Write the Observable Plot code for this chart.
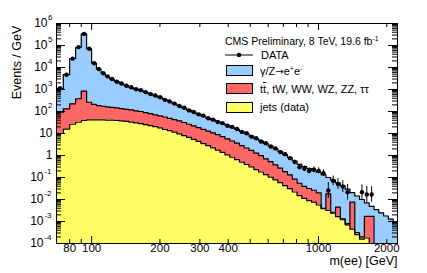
<!DOCTYPE html>
<html><head><meta charset="utf-8">
<script src="https://cdn.jsdelivr.net/npm/d3@7"></script>
<script src="https://cdn.jsdelivr.net/npm/@observablehq/plot@0.6"></script>
<style>
html,body{margin:0;padding:0;background:#fff;}
#wrap{position:relative;width:427px;height:273px;font-family:"Liberation Sans",Arial,Helvetica,sans-serif;}
.lg{position:absolute;font-size:11px;line-height:12px;white-space:nowrap;color:#000;}
.box{position:absolute;width:25px;height:9px;border:1px solid #000;}
sup{font-size:7px;line-height:0;vertical-align:4px;}
.arr{font-family:"DejaVu Sans",sans-serif;font-size:10px;}
</style></head><body>
<div id="wrap">
  <div id="chart"></div>
  <div class="lg" style="left:225px;top:35px;font-size:10.5px">CMS Preliminary, 8 TeV, 19.6 fb<sup>-1</sup></div>
  <svg style="position:absolute;left:224px;top:50px" width="32" height="10"><line x1="1" y1="5" x2="29" y2="5" stroke="#000" stroke-width="1"/><circle cx="15" cy="5" r="2.2" fill="#000"/></svg>
  <div class="lg" style="left:261px;top:48.7px">DATA</div>
  <div class="box" style="left:225.5px;top:64.5px;background:#99ccff"></div>
  <div class="lg" style="left:260px;top:64.7px">γ/Z<span class="arr">→</span>e<sup>+</sup>e<sup>-</sup></div>
  <div class="box" style="left:225.5px;top:83px;background:#ff6666"></div>
  <div class="lg" style="left:260px;top:82.9px">t<span style="text-decoration:overline">t</span>, tW, WW, WZ, ZZ, ττ</div>
  <div class="box" style="left:225.5px;top:101.5px;background:#ffff66"></div>
  <div class="lg" style="left:260px;top:101.2px">jets (data)</div>
</div>
<script>
// Bin edges (GeV)
const edges = [70,75,80,85,90,95,100,105,110,115,120,126,132.3,138.9,145.9,153.2,160.8,168.9,177.3,186.2,195.5,205.3,215.5,226.3,237.6,249.5,262,275.1,288.8,303.3,318.4,334.4,351.1,368.6,387,406.4,426.7,448.1,470.5,494,518.7,544.7,571.9,600.5,630.5,662,695.1,729.9,766.4,804.7,844.9,887.2,931.5,978.1,1027,1078,1132,1189,1248,1311,1376,1445,1517,1593,1673,1757,1844,1937,2033,2135,2242];

// Events / GeV per process
const jets = [10.0,15.8,26.3,32.4,38.9,41.2,41.9,42.0,41.6,40.9,
  40.7,39.8,37.2,35.5,33.1,30.2,28.2,25.1,22.9,20.4,
  18.2,15.5,13.5,11.5,9.55,7.94,6.61,5.37,4.37,3.47,
  2.82,2.24,1.74,1.38,1.07,0.832,0.646,0.501,0.389,0.302,
  0.229,0.178,0.135,0.105,0.0776,0.0589,0.0427,0.0309,0.0219,0.0151,
  0.0112,0.00891,0.00759,0.00562,0.0038,0.00316,0.0024,0.00166,0.0012,0.000708,
  0.000447,0.000251,0.000158,0.000178,0,0,0,0,0,0];

const other = [83.3,116,198,348,812,222,167,144,132,121,
  114,105,97.7,90.4,84.4,77.0,71.8,64.0,56.5,50.4,
  44.9,40.7,35.5,31.2,27.6,23.7,19.7,17.0,14.3,12.0,
  10.1,8.48,7.18,5.86,4.68,3.74,2.99,2.32,1.80,1.40,
  1.06,0.799,0.573,0.420,0.294,0.210,0.144,0.101,0.0632,0.0398,
  0.0286,0.0227,0.0187,0.0143,0.00018,0.015,0.00023,0.00281,0.00012,0.000086,
  0.00714,0.000065,0.000041,0.00152,0.0017,0,0,0,0,0];

const dyee = [1029,4654,25476,82800,337950,70540,15640,8325,5321,3728,
  2796,2147,1685,1388,1112,940,812,670,552,454,
  373,291,233,181,145,113,88.5,70.9,57.2,46.2,
  37.2,31.0,25.8,20.9,17.7,14.5,11.9,9.48,7.58,5.89,
  4.60,3.59,2.76,2.17,1.67,1.28,0.910,0.681,0.477,0.343,
  0.276,0.225,0.183,0.150,0.128,0.0818,0.0732,0.0531,0.0413,0.0287,
  0.0128,0.0141,0.0098,0.00538,0.0032,0.00347,0.00245,0.00178,0.00129,0.000933];

const data = [1150,4700,25300,84000,336000,71500,15600,8600,5450,3950,
  3020,2240,1860,1480,1260,1020,933,759,617,537,
  447,339,288,229,178,148,112,95.5,74.1,64.6,
  49.0,42.7,33.1,29.5,22.4,20.0,15.9,11.8,10.2,7.2,
  6.1,4.3,3.6,2.55,2.1,1.42,1.15,0.76,0.50,0.295,
  0.251,0.200,0.224,0.200,0.158,0.0257,0.0708,0.0513,0.0389,0.0214,
  null,null,0.0214,0.0170,0.0170,null,null,null,null,null];

// Axis ticks
const yExps = [-4,-3,-2,-1,0,1,2,3,4,5,6];
const xLabels = [80,100,200,300,400,1000,2000];
const xMajor = [100,1000];
const xMinor = [70,80,90,200,300,400,500,600,700,800,900,2000];

const W = 427, H = 273, mL = 56, mR = 30, mT = 23, mB = 30;
const pw = W - mL - mR, ph = H - mT - mB;
const FLOOR = 1e-6;
const BLUE = "#99ccff", RED = "#ff6666", YEL = "#ffff66";

const n = jets.length;
const layers = jets.map((j, i) => {
  const t1 = j, t2 = t1 + other[i], t3 = t2 + dyee[i];
  return {t1: Math.max(t1, FLOOR), t2: Math.max(t2, FLOOR), t3: Math.max(t3, FLOOR)};
});
const stepPts = edges.map((e, i) => ({x: e, ...layers[Math.min(i, n - 1)]}));

const dataPts = data.map((v, i) => {
  if (v == null) return null;
  const w = edges[i + 1] - edges[i];
  const N = v * w;
  const s = Math.sqrt(N + 0.25);
  return {xc: (edges[i] + edges[i + 1]) / 2, v, lo: Math.max(N + 0.5 - s, 1e-9) / w, hi: (N + 0.5 + s) / w};
}).filter(Boolean);

const yMajor = yExps.map(e => 10 ** e);
const yMinor = [];
for (const e of yExps.slice(0, -1)) for (let m = 2; m <= 9; m++) yMinor.push(m * 10 ** e);

const yLab = yExps.map(e => ({v: 10 ** e, base: e === 0 ? "1" : "10", exp: (e === 0 || e === 1) ? "" : String(e)}));
const FS = 12;

const chart = Plot.plot({
  width: W, height: H, marginLeft: mL, marginRight: mR, marginTop: mT, marginBottom: mB,
  x: {type: "log", domain: [70, 2230], axis: null},
  y: {type: "log", domain: [1e-4, 1e6], axis: null},
  style: {fontFamily: "Liberation Sans, Arial, Helvetica, sans-serif", background: "white", overflow: "visible"},
  marks: [
    Plot.areaY(stepPts, {x: "x", y1: "t2", y2: "t3", curve: "step-after", fill: BLUE, clip: true}),
    Plot.areaY(stepPts, {x: "x", y1: "t1", y2: "t2", curve: "step-after", fill: RED, clip: true}),
    Plot.areaY(stepPts, {x: "x", y1: () => FLOOR, y2: "t1", curve: "step-after", fill: YEL, clip: true}),
    Plot.line(stepPts, {x: "x", y: "t1", curve: "step-after", stroke: "black", strokeWidth: 1.2, clip: true}),
    Plot.line(stepPts, {x: "x", y: "t2", curve: "step-after", stroke: "black", strokeWidth: 1.2, clip: true}),
    Plot.line(stepPts, {x: "x", y: "t3", curve: "step-after", stroke: "black", strokeWidth: 1.2, clip: true}),
    Plot.ruleX(dataPts, {x: "xc", y1: "lo", y2: "hi", stroke: "black", strokeWidth: 1, clip: true}),
    Plot.dot(dataPts, {x: "xc", y: "v", r: 2.2, fill: "black", stroke: null, clip: true}),
    Plot.frame({stroke: "black", strokeWidth: 1}),
    // inward ticks
    Plot.ruleY(yMajor, {y: d => d, insetRight: pw - 9, stroke: "black"}),
    Plot.ruleY(yMajor, {y: d => d, insetLeft: pw - 9, stroke: "black"}),
    Plot.ruleY(yMinor, {y: d => d, insetRight: pw - 5, stroke: "black"}),
    Plot.ruleY(yMinor, {y: d => d, insetLeft: pw - 5, stroke: "black"}),
    Plot.ruleX(xMajor, {x: d => d, insetTop: ph - 7, stroke: "black"}),
    Plot.ruleX(xMajor, {x: d => d, insetBottom: ph - 7, stroke: "black"}),
    Plot.ruleX(xMinor, {x: d => d, insetTop: ph - 4, stroke: "black"}),
    Plot.ruleX(xMinor, {x: d => d, insetBottom: ph - 4, stroke: "black"}),
    // y tick labels
    Plot.text(yLab.filter(d => !d.exp), {y: "v", text: "base", frameAnchor: "left", textAnchor: "end", dx: -4, fontSize: FS}),
    Plot.text(yLab.filter(d => d.exp && !d.exp.startsWith("-")), {y: "v", text: "base", frameAnchor: "left", textAnchor: "end", dx: -9, fontSize: FS}),
    Plot.text(yLab.filter(d => d.exp && !d.exp.startsWith("-")), {y: "v", text: "exp", frameAnchor: "left", textAnchor: "end", dx: -4, dy: -6, fontSize: 8}),
    Plot.text(yLab.filter(d => d.exp.startsWith("-")), {y: "v", text: "base", frameAnchor: "left", textAnchor: "end", dx: -13, fontSize: FS}),
    Plot.text(yLab.filter(d => d.exp.startsWith("-")), {y: "v", text: "exp", frameAnchor: "left", textAnchor: "end", dx: -5, dy: -6, fontSize: 8}),
    // x tick labels
    Plot.text(xLabels, {x: d => d, text: d => String(d), frameAnchor: "bottom", dy: 8.5, fontSize: 11.5}),
    // axis titles
    Plot.text(["m(ee) [GeV]"], {text: d => d, frameAnchor: "bottom-right", textAnchor: "end", dy: 21.5, fontSize: 12.5}),
    Plot.text(["Events / GeV"], {text: d => d, frameAnchor: "left", textAnchor: "middle", lineAnchor: "middle", rotate: -90, dx: -39.5, dy: -71, fontSize: 12.5})
  ]
});
document.getElementById("chart").appendChild(chart);
</script>
</body></html>
